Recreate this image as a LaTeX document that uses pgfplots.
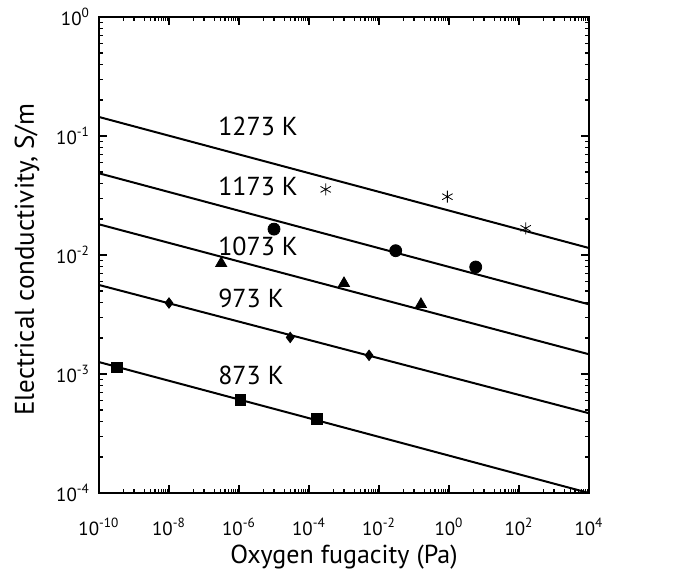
\documentclass[border=0pt]{standalone}
\usepackage{fontspec}
\setmainfont{PT Sans}
\usepackage{pgfplots}
\pgfplotsset{compat=1.18}

\begin{document}
\begin{tikzpicture}
\begin{axis}[
  scale only axis,
  width=245pt, height=238pt,
  xmode=log, ymode=log,
  xmin=1e-10, xmax=1e4,
  ymin=1e-4, ymax=1,
  axis line style={line width=0.9pt},
  tick style={black, line width=0.7pt},
  tick align=inside,
  major tick length=4pt, minor tick length=2.2pt,
  xtick={1e-10,1e-8,1e-6,1e-4,1e-2,1,1e2,1e4},
  xticklabels={10\textsuperscript{-10},10\textsuperscript{-8},10\textsuperscript{-6},10\textsuperscript{-4},10\textsuperscript{-2},10\textsuperscript{0},10\textsuperscript{2},10\textsuperscript{4}},
  minor xtick={5e-10,1e-9,2e-9,3e-9,4e-9,5e-9,6e-9,7e-9,8e-9,9e-9,
               5e-8,1e-7,2e-7,3e-7,4e-7,5e-7,6e-7,7e-7,8e-7,9e-7,
               5e-6,1e-5,2e-5,3e-5,4e-5,5e-5,6e-5,7e-5,8e-5,9e-5,
               5e-4,1e-3,2e-3,3e-3,4e-3,5e-3,6e-3,7e-3,8e-3,9e-3,
               5e-2,1e-1,2e-1,3e-1,4e-1,5e-1,6e-1,7e-1,8e-1,9e-1,
               5,10,20,30,40,50,60,70,80,90,
               500,1e3,2e3,3e3,4e3,5e3,6e3,7e3,8e3,9e3},
  ytick={1e-4,1e-3,1e-2,1e-1,1},
  yticklabels={10\textsuperscript{-4},10\textsuperscript{-3},10\textsuperscript{-2},10\textsuperscript{-1},10\textsuperscript{0}},
  tick label style={font=\fontsize{9.5}{11}\selectfont},
  xticklabel style={yshift=-9pt},
  yticklabel style={xshift=-1pt},
  xlabel={Oxygen fugacity (Pa)},
  ylabel={Electrical conductivity, S/m},
  xlabel style={font=\fontsize{13}{15}\selectfont, at={(axis description cs:0.5,0)}, anchor=center, yshift=-32pt},
  ylabel style={font=\fontsize{13.5}{15}\selectfont, at={(axis description cs:0,0.49)}, anchor=center, yshift=36pt},
  clip=false,
]
% fitted lines
\addplot[black, line width=1pt] coordinates {(1e-10,0.1445) (1e4,0.01145)};
\addplot[black, line width=1pt] coordinates {(1e-10,0.0486) (1e4,0.00385)};
\addplot[black, line width=1pt] coordinates {(1e-10,0.01811) (1e4,0.001465)};
\addplot[black, line width=1pt] coordinates {(1e-10,0.0056) (1e4,0.000468)};
\addplot[black, line width=1pt] coordinates {(1e-10,0.00126) (1e4,0.0001)};

% measured points
\addplot[only marks, mark=asterisk, mark size=3pt, black, thin] coordinates {
  (3.0e-4,0.0356) (0.9,0.0309) (155,0.01676)};
\addplot[only marks, mark=*, mark size=3pt, black] coordinates {
  (1e-5,0.0165) (0.030,0.01087) (5.8,0.00793)};
\addplot[only marks, mark=triangle*, mark size=3.2pt, black] coordinates {
  (3.1e-7,0.00851) (1e-3,0.00578) (0.158,0.00385)};
\addplot[only marks, mark=diamond*, mark size=2.6pt, black] coordinates {
  (1e-8,0.00395) (2.9e-5,0.00203) (5.2e-3,0.001436)};
\addplot[only marks, mark=square*, mark size=2.7pt, black] coordinates {
  (3.2e-10,0.001138) (1.1e-6,6.05e-4) (1.7e-4,4.19e-4)};

\begin{scope}[every node/.style={anchor=west, font=\fontsize{13}{15}\selectfont, inner sep=0pt}]
\node at (axis cs:2.5e-7,0.1197) {1273 K};
\node at (axis cs:2.5e-7,0.0375) {1173 K};
\node at (axis cs:2.5e-7,0.01175) {1073 K};
\node at (axis cs:2.5e-7,0.00432) {973 K};
\node at (axis cs:2.5e-7,0.00098) {873 K};
\end{scope}
\end{axis}
\pgfresetboundingbox
\path ([shift={(-49.5pt,-45pt)}]current axis.south west) rectangle ([shift={(287.5pt,246.5pt)}]current axis.south west);
\end{tikzpicture}
\end{document}
